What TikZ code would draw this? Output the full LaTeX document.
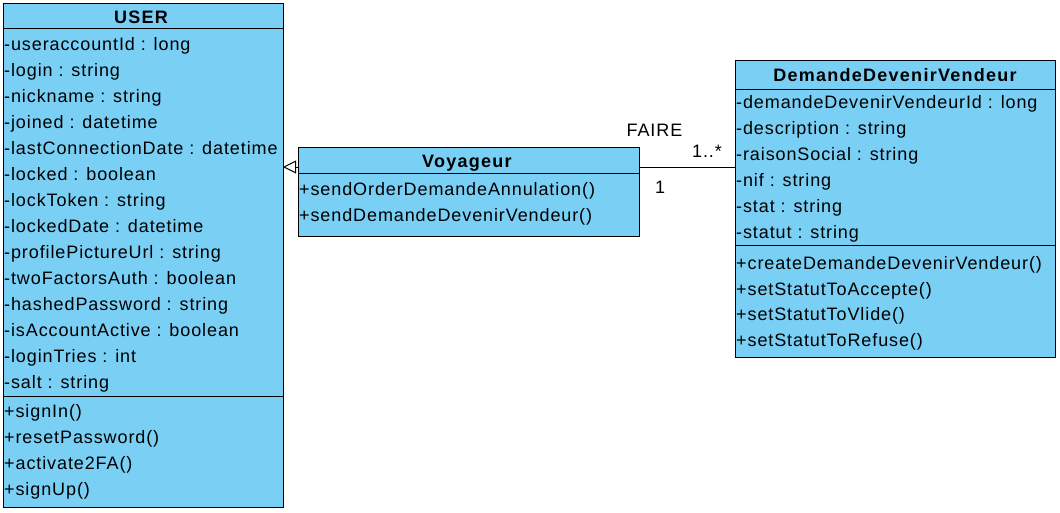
\documentclass[tikz,border=0pt]{standalone}
\usepackage{fontspec}
\setmainfont{Liberation Sans}
\newfontfamily\umlfont[LetterSpace=5]{Liberation Sans}
\newfontfamily\umltitlefont[LetterSpace=7]{Liberation Sans}
\usetikzlibrary{arrows.meta}
\definecolor{umlfill}{RGB}{122,207,245}
\begin{document}
\begin{tikzpicture}[x=1pt,y=-1pt,
  classbox/.style={draw=black, fill=umlfill, line width=1pt, anchor=north west, inner sep=0pt, outer sep=0pt},
  sepline/.style={draw=black, line width=1pt},
  member/.style={anchor=base west, inner sep=0pt, font=\umlfont\fontsize{18}{22}\selectfont},
  ctitle/.style={anchor=base, inner sep=0pt, font=\umltitlefont\fontsize{18}{22}\selectfont\bfseries},
  lbl/.style={anchor=base, inner sep=0pt, font=\umlfont\fontsize{18}{22}\selectfont},
  assoc/.style={draw=black, line width=1pt},
  gen/.style={draw=black, line width=1pt, -{Triangle[open, length=13pt, width=13pt, fill=white]}}
]
\useasboundingbox (0,0) rectangle (1060,512);

% USER
\node[classbox, minimum width=280pt, minimum height=504pt] (user) at (3,3) {};
\draw[sepline] (3,28.5) -- (283,28.5);
\draw[sepline] (3,396) -- (283,396);
\node[ctitle] (usertitle) at (141,23.5) {USER};
\foreach \t [count=\i from 0] in {-useraccountId : long,-login : string,-nickname : string,-joined : datetime,-lastConnectionDate : datetime,-locked : boolean,-lockToken : string,-lockedDate : datetime,-profilePictureUrl : string,-twoFactorsAuth : boolean,-hashedPassword : string,-isAccountActive : boolean,-loginTries : int,-salt : string}
  \node[member] (ua\i) at (4,{50.5+26*\i}) {\t};
\foreach \t [count=\i from 0] in {+signIn(),+resetPassword(),+activate2FA(),+signUp()}
  \node[member] (um\i) at (4,{417+26*\i}) {\t};

% Voyageur
\node[classbox, minimum width=341pt, minimum height=89pt] (voy) at (298,147) {};
\draw[sepline] (298,173) -- (639,173);
\node[ctitle] (voytitle) at (467,167.5) {Voyageur};
\node[member] (vm0) at (299,195.5) {+sendOrderDemandeAnnulation()};
\node[member] (vm1) at (299,221.5) {+sendDemandeDevenirVendeur()};

% DemandeDevenirVendeur
\node[classbox, minimum width=320pt, minimum height=297pt] (ddv) at (735,60) {};
\draw[sepline] (735,89) -- (1055,89);
\draw[sepline] (735,245) -- (1055,245);
\node[ctitle] (ddvtitle) at (895,81.5) {DemandeDevenirVendeur};
\foreach \t [count=\i from 0] in {-demandeDevenirVendeurId : long,-description : string,-raisonSocial : string,-nif : string,-stat : string,-statut : string}
  \node[member] (da\i) at (736,{108+26*\i}) {\t};
\foreach \t [count=\i from 0] in {+createDemandeDevenirVendeur(),+setStatutToAccepte(),+setStatutToVlide(),+setStatutToRefuse()}
  \node[member] (dm\i) at (736,{269.5+25.7*\i}) {\t};

% connectors
\coordinate (genstart) at (voy.west |- 0,167);
\coordinate (genend) at (user.east |- 0,167);
\draw[gen] (genstart) -- (genend);
\coordinate (asA) at (voy.east |- 0,167);
\coordinate (asB) at (ddv.west |- 0,167);
\draw[assoc] (asA) -- (asB);
\node[lbl] (faire) at (654.5,136) {FAIRE};
\node[lbl] (multB) at (707,157) {1..*};
\node[lbl] (multA) at (660,193) {1};
\end{tikzpicture}
\end{document}
